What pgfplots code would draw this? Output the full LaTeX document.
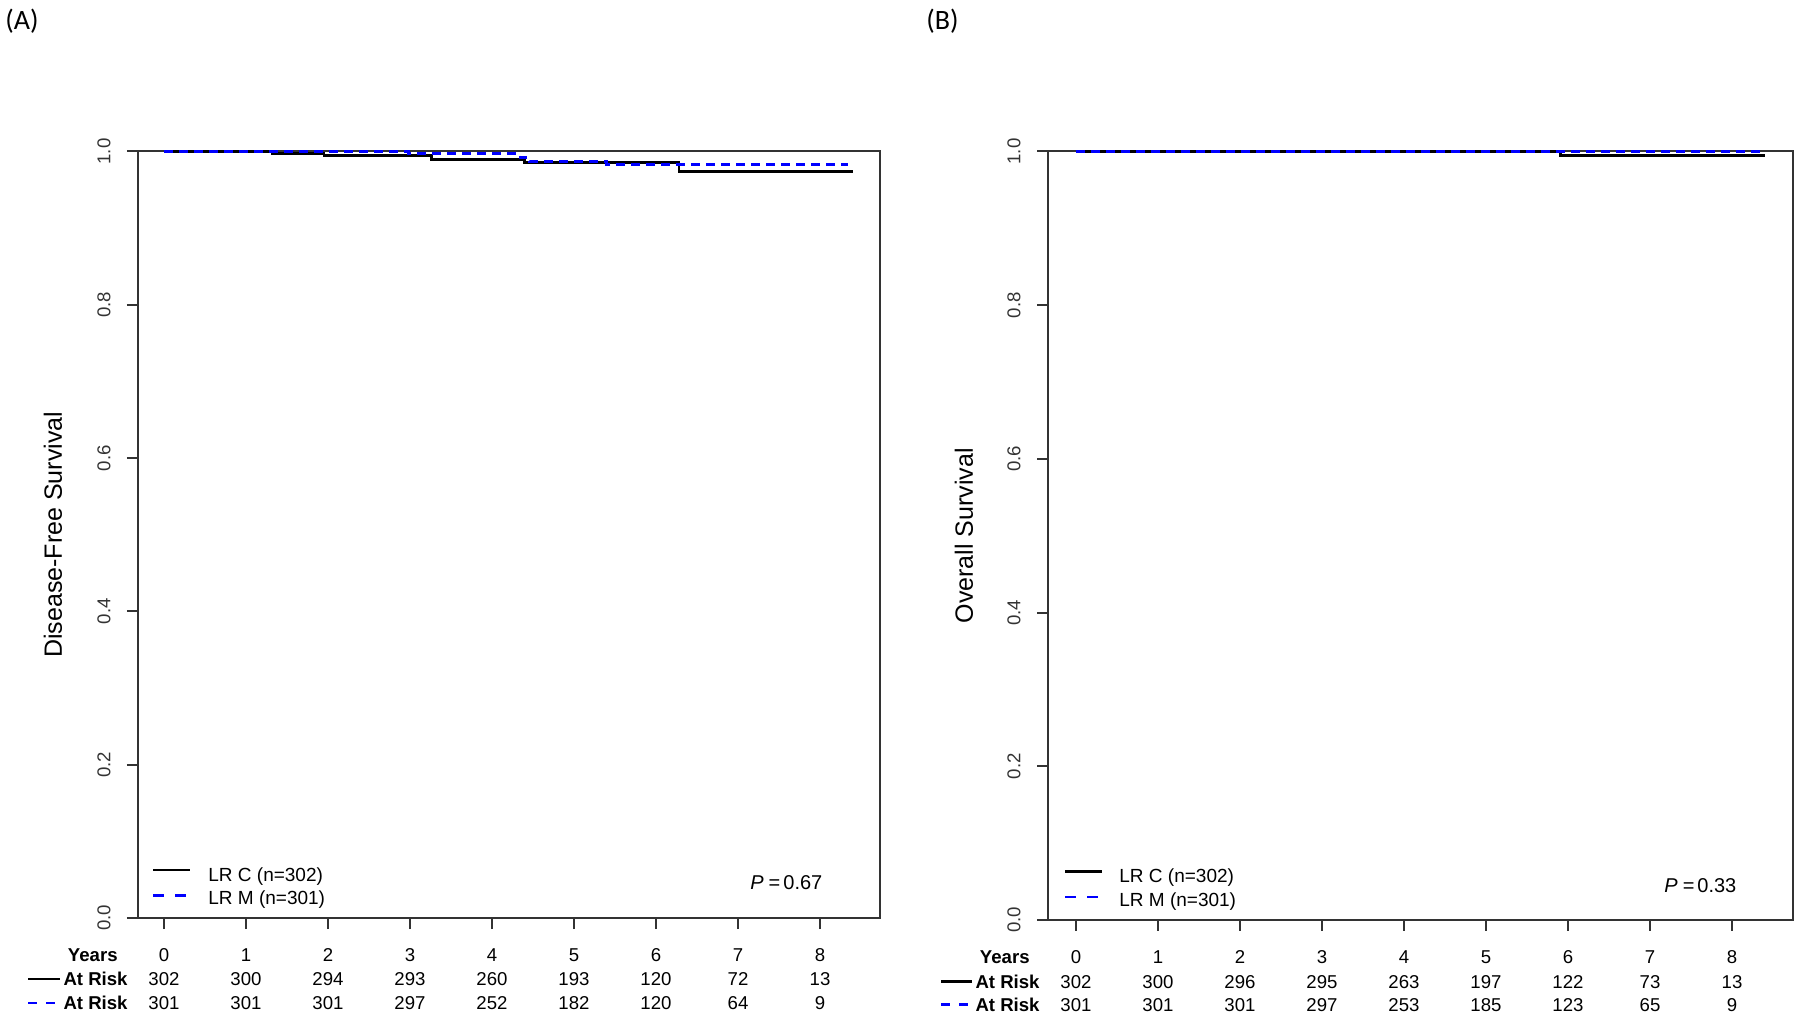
\documentclass[border=0pt]{standalone}
\usepackage{pgfplots}
\pgfplotsset{compat=1.18}
\usepackage{fontspec}
\setmainfont{Liberation Sans}
\newfontfamily\calibri{Carlito}
\definecolor{rblue}{RGB}{0,0,255}
\newcommand\rowfont{\fontsize{9.3}{11}\selectfont}
\newcommand\legfont{\fontsize{9.5}{11}\selectfont}
\pgfplotsset{
  kmaxis/.style={
    scale only axis, anchor=south west,
    axis line style={line width=1pt, black!80},
    major tick style={line width=1pt, black!80},
    tick align=outside, major tick length=5.5pt,
    xtick pos=left, ytick pos=left,
    xtick={0,1,2,3,4,5,6,7,8}, xticklabels={},
    ytick={0,0.2,0.4,0.6,0.8,1}, yticklabels={0.0,0.2,0.4,0.6,0.8,1.0},
    yticklabel style={rotate=90, anchor=center, font=\rowfont, text=black!80},
    yticklabel shift=11.5pt,
    ymin=0, ymax=1, clip=false,
  },
  kmC/.style={const plot, black, line width=1.4pt, mark=none},
  kmM/.style={const plot, rblue, line width=1.4pt, mark=none, dash pattern=on 4.5pt off 3pt},
}
\begin{document}
\begin{tikzpicture}
\begin{scope}[x=0.5pt,y=-0.5pt,yshift=509pt, every node/.style={inner sep=0pt}]
\useasboundingbox (0,0) rectangle (1800,1018);
% panel labels
\node[anchor=west, font=\calibri\fontsize{14}{16}\selectfont] at (5,21) {(A)};
\node[anchor=west, font=\calibri\fontsize{14}{16}\selectfont] at (926,21) {(B)};
% left table
\node[anchor=base east, font=\rowfont\bfseries] at (118,961.7) {Years};
\node[anchor=base east, font=\rowfont\bfseries] at (128,985.7) {At Risk};
\node[anchor=base east, font=\rowfont\bfseries] at (128,1009.7) {At Risk};
\draw[black, line width=1.4pt] (28,979) -- (60,979);
\draw[rblue, line width=1.4pt, dash pattern=on 4.5pt off 4.5pt] (28,1003) -- (60,1003);
\foreach \v [count=\i from 0] in {0,1,2,3,4,5,6,7,8}
  \node[anchor=base, font=\rowfont] at (164+82*\i,961.7) {\v};
\foreach \v [count=\i from 0] in {302,300,294,293,260,193,120,72,13}
  \node[anchor=base, font=\rowfont] at (164+82*\i,985.7) {\v};
\foreach \v [count=\i from 0] in {301,301,301,297,252,182,120,64,9}
  \node[anchor=base, font=\rowfont] at (164+82*\i,1009.7) {\v};
% right table
\node[anchor=base east, font=\rowfont\bfseries] at (1030,963.7) {Years};
\node[anchor=base east, font=\rowfont\bfseries] at (1040,988.2) {At Risk};
\node[anchor=base east, font=\rowfont\bfseries] at (1040,1011.2) {At Risk};
\draw[black, line width=1.4pt] (941,981.5) -- (972,981.5);
\draw[rblue, line width=1.4pt, dash pattern=on 4.5pt off 4.5pt] (941,1004.5) -- (972,1004.5);
\foreach \v [count=\i from 0] in {0,1,2,3,4,5,6,7,8}
  \node[anchor=base, font=\rowfont] at (1076+82*\i,963.7) {\v};
\foreach \v [count=\i from 0] in {302,300,296,295,263,197,122,73,13}
  \node[anchor=base, font=\rowfont] at (1076+82*\i,988.2) {\v};
\foreach \v [count=\i from 0] in {301,301,301,297,253,185,123,65,9}
  \node[anchor=base, font=\rowfont] at (1076+82*\i,1011.2) {\v};
% left legend
\draw[black, line width=1.4pt] (153,870) -- (190,870);
\draw[rblue, line width=1.4pt, dash pattern=on 5.5pt off 5.5pt] (153,895.7) -- (190,895.7);
\node[anchor=base west, font=\legfont] at (208,881.7) {LR C (n=302)};
\node[anchor=base west, font=\legfont] at (208,905) {LR M (n=301)};
\node[anchor=base west, font=\fontsize{10}{12}\selectfont] at (750,890) {\textit{P}\kern2.5pt=\kern1.5pt0.67};
% right legend
\draw[black, line width=1.4pt] (1065,871.5) -- (1102,871.5);
\draw[rblue, line width=1.4pt, dash pattern=on 5.5pt off 5.5pt] (1065,897) -- (1102,897);
\node[anchor=base west, font=\legfont] at (1119,883) {LR C (n=302)};
\node[anchor=base west, font=\legfont] at (1119,906.5) {LR M (n=301)};
\node[anchor=base west, font=\fontsize{10}{12}\selectfont] at (1664,892) {\textit{P}\kern2.5pt=\kern1.5pt0.33};
\end{scope}

% (A) Disease-free survival
\begin{axis}[kmaxis, at={(69pt,50pt)}, width=371pt, height=383.25pt,
  xmin=-0.317, xmax=8.73,
  ylabel={Disease-Free Survival},
  every axis y label/.style={at={(rel axis cs:-0.1146,0.5)}, rotate=90, anchor=center, font=\fontsize{12.5}{15}\selectfont}]
\addplot[kmC] coordinates {(0,1) (1.32,0.9974) (1.95,0.9952) (3.26,0.9891) (4.40,0.9852) (6.28,0.9743) (8.40,0.9743)};
\addplot[kmM] coordinates {(0,1) (2.98,0.9974) (4.34,0.992) (4.46,0.9874) (5.40,0.9835) (8.34,0.9835)};
\end{axis}

% (B) Overall survival
\begin{axis}[kmaxis, at={(524pt,49pt)}, width=372.5pt, height=384.25pt,
  xmin=-0.341, xmax=8.744,
  ylabel={Overall Survival},
  every axis y label/.style={at={(rel axis cs:-0.1128,0.5)}, rotate=90, anchor=center, font=\fontsize{12.5}{15}\selectfont}]
\addplot[kmC] coordinates {(0,1) (5.91,0.9943) (8.40,0.9943)};
\addplot[kmM] coordinates {(0,1) (8.38,1)};
\end{axis}
\end{tikzpicture}
\end{document}
